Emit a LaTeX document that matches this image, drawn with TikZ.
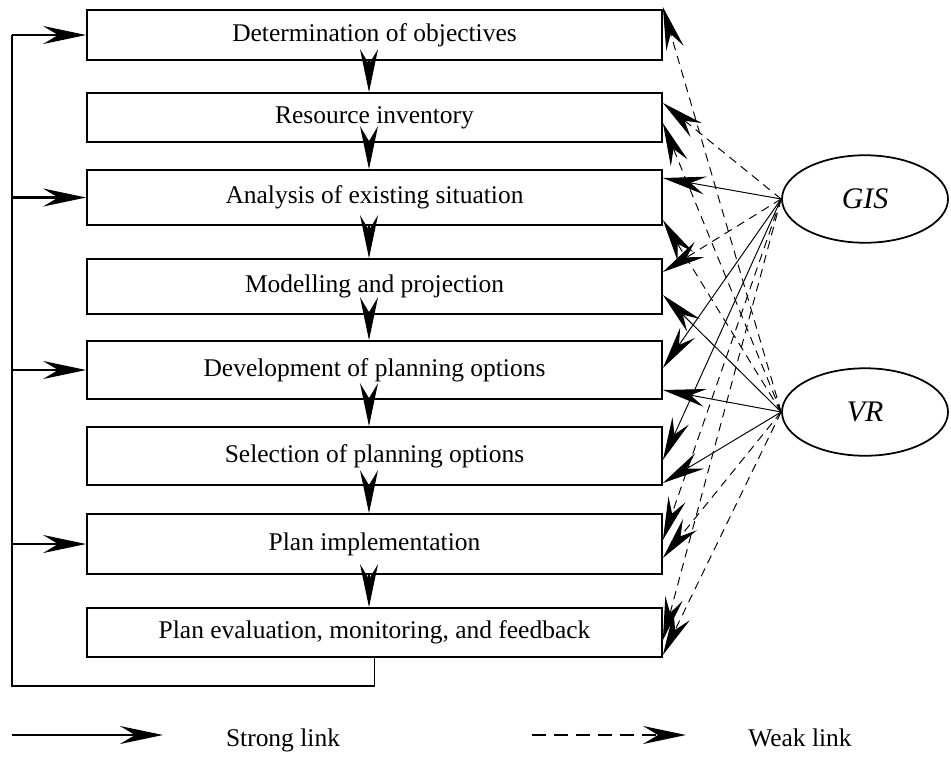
\documentclass[tikz,border=0pt]{standalone}
\usepackage{fontspec}
\setmainfont{Liberation Serif}
\usetikzlibrary{positioning, arrows.meta, calc, shapes.geometric}
\tikzset{
  stage/.style={draw, line width=1pt, minimum width=11.5cm, inner sep=0pt},
  tool/.style={draw, ellipse, line width=1pt, minimum width=3.32cm, minimum height=1.75cm, inner sep=0pt, font=\fontsize{17}{20}\selectfont\itshape},
  stronglink/.style={->, line width=0.55pt},
  weaklink/.style={->, line width=0.55pt, dash pattern=on 0.17cm off 0.12cm},
}

\begin{document}
\begin{tikzpicture}[font=\fontsize{14.5}{17}\selectfont, >={Stealth[length=0.86cm, width=0.36cm, inset=0.3cm]}]
  \useasboundingbox (0,0) rectangle (19.02,-15.14);
  % planning stages
  \foreach \i/\y/\h/\txt in {1/-0.70/1.00/Determination of objectives,
      2/-2.35/0.98/Resource inventory,
      3/-3.95/1.10/Analysis of existing situation,
      4/-5.73/1.10/Modelling and projection,
      5/-7.40/1.16/Development of planning options,
      6/-9.12/1.16/Selection of planning options,
      7/-10.88/1.20/Plan implementation,
      8/-12.65/0.98/{Plan evaluation, monitoring, and feedback}}
    \node[stage, minimum height=\h cm] (b\i) at (7.49,\y) {\txt};
  \foreach \i [count=\j from 2] in {1,...,7}
    \draw[->, line width=0.6pt] ([xshift=-0.11cm]b\i.south) -- ([xshift=-0.11cm]b\j.north);
  % feedback loop
  \coordinate (lc) at (0.24,-13.72);
  \draw[line width=1pt] (b8.south) |- (lc) -- (lc |- b1.west);
  \foreach \i in {1,3,5,7}
    \draw[->, line width=1.6pt] (lc |- b\i.west) -- (b\i.west);
  % tools
  \node[tool] (gis) at (17.30,-3.98) {GIS};
  \node[tool] (vr) at (17.30,-8.24) {VR};
  \foreach \b/\dy/\ls in {2/0.29/weaklink, 3/0.39/stronglink, 4/0.29/weaklink, 5/0.04/stronglink,
      6/-0.08/stronglink, 7/0.08/weaklink, 8/-0.15/weaklink}
    \draw[\ls] (gis.west) -- ($(b\b.east)+(0,\dy)$);
  \foreach \b/\dy/\ls in {1/0.56/weaklink, 2/-0.11/weaklink, 3/-0.45/weaklink, 4/-0.17/stronglink,
      5/-0.40/stronglink, 6/-0.54/stronglink, 7/-0.28/weaklink, 8/-0.45/weaklink}
    \draw[\ls] (vr.west) -- ($(b\b.east)+(0,\dy)$);
  % legend
  \coordinate (sa) at (0.24,-14.70);
  \coordinate (sb) at (3.26,-14.70);
  \coordinate (wa) at (10.64,-14.70);
  \coordinate (wb) at (13.72,-14.70);
  \draw[->, line width=1.6pt] (sa) -- (sb);
  \draw[->, line width=1.6pt, dash pattern=on 0.28cm off 0.16cm] (wa) -- (wb);
  \node[anchor=base] (strong) at (5.66,-14.93) {Strong link};
  \node[anchor=base] (weak) at (16.0,-14.93) {Weak link};
\end{tikzpicture}
\end{document}
